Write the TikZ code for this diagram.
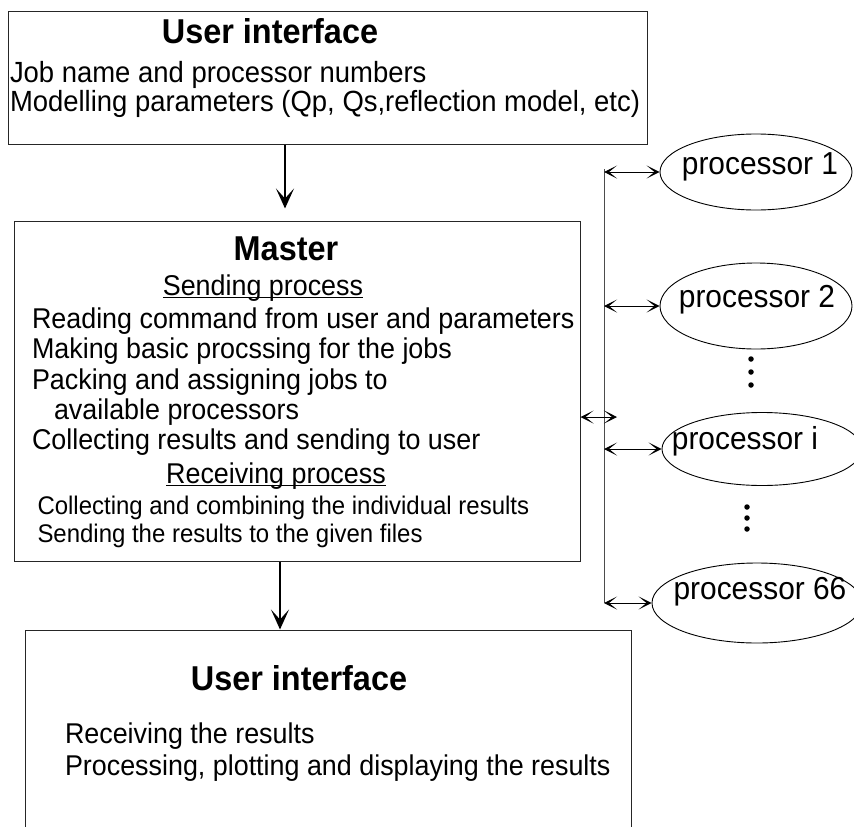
\documentclass[tikz,border=0pt]{standalone}
\usepackage{fontspec}
\setmainfont{Liberation Sans}[FakeStretch=0.94]
\usetikzlibrary{shapes.geometric,arrows.meta}
\begin{document}
\begin{tikzpicture}[x=1pt,y=-1pt,
  box/.style={draw=black!85, line width=1pt, rectangle, inner sep=0pt},
  proc/.style={draw=black, line width=0.9pt, ellipse, inner sep=0pt},
  title/.style={inner sep=0pt, outer sep=0pt, font=\fontsize{34.5pt}{38pt}\selectfont\bfseries},
  body/.style={inner sep=0pt, outer sep=0pt, font=\fontsize{28.6pt}{30pt}\selectfont},
  topbody/.style={inner sep=0pt, outer sep=0pt, font=\fontsize{29.2pt}{30pt}\selectfont},
  small/.style={inner sep=0pt, outer sep=0pt, font=\fontsize{25.5pt}{28pt}\selectfont},
  ptxt/.style={inner sep=0pt, outer sep=0pt, font=\fontsize{31.8pt}{34pt}\selectfont},
  ul/.style={line width=1pt},
  arr/.style={line width=2pt, -{Stealth[length=20pt,width=18pt,inset=10pt]}},
  dbl/.style={line width=1pt, {Stealth[length=13pt,width=13pt,inset=8pt]}-{Stealth[length=13pt,width=13pt,inset=8pt]}},
  bus/.style={line width=1pt, draw=black!70},
  dot/.style={circle, fill=black, inner sep=0pt, minimum size=5.5pt}
]
\path[fill=white] (0,0) rectangle (854,827);
\useasboundingbox (0,0) rectangle (854,827);

% boxes
\node[box, minimum width=639pt, minimum height=133pt] (ui) at (327.5,77.5) {};
\node[box, minimum width=566pt, minimum height=340pt] (master) at (297,391) {};
\node[box, minimum width=606pt, minimum height=240pt] (out) at (328,750) {};

% top box text
\node[title, anchor=base] (uit) at (270,43) {User interface};
\node[topbody, anchor=base west] (ui1) at (10,82) {Job name and processor numbers};
\node[topbody, anchor=base west] (ui2) at (10,111) {Modelling parameters (Qp, Qs,reflection model, etc)};

% master text
\node[title, anchor=base] (mt) at (286,260) {Master};
\node[body, anchor=base] (sp) at (263,295) {Sending process};
\draw[ul] ([yshift=-2.5pt]sp.base west) -- ([yshift=-2.5pt]sp.base east);
\node[body, anchor=base west] (m1) at (32,328) {Reading command from user and parameters};
\node[body, anchor=base west] (m2) at (32,358) {Making basic procssing for the jobs};
\node[body, anchor=base west] (m3) at (32,389) {Packing and assigning jobs to};
\node[body, anchor=base west] (m4) at (54,419) {available processors};
\node[body, anchor=base west] (m5) at (32,449) {Collecting results and sending to user};
\node[body, anchor=base] (rp) at (276,483) {Receiving process};
\draw[ul] ([yshift=-2.5pt]rp.base west) -- ([yshift=-2.5pt]rp.base east);
\node[small, anchor=base west] (m6) at (37.5,514) {Collecting and combining the individual results};
\node[small, anchor=base west] (m7) at (37.5,542) {Sending the results to the given files};

% bottom box text
\node[title, anchor=base] (ot) at (299,690) {User interface};
\node[body, anchor=base west] (o1) at (65,743) {Receiving the results};
\node[body, anchor=base west] (o2) at (65,775) {Processing, plotting and displaying the results};

% processors
\node[proc, minimum width=192pt, minimum height=76pt] (p1) at (756,172) {};
\node[proc, minimum width=192pt, minimum height=86pt] (p2) at (756,306) {};
\node[proc, minimum width=200pt, minimum height=73pt] (pi) at (762,449) {};
\node[proc, minimum width=210pt, minimum height=80pt] (p66) at (757,603) {};
\node[ptxt, anchor=base] (p1t) at (760,174) {processor 1};
\node[ptxt, anchor=base] (p2t) at (757,307) {processor 2};
\node[ptxt, anchor=base] (pit) at (745,449) {processor i};
\node[ptxt, anchor=base] (p66t) at (760,599) {processor 66};

% dots
\node[dot] (d1) at (751,359) {};
\node[dot] (d2) at (751,372) {};
\node[dot] (d3) at (751,385) {};
\node[dot] (d4) at (747,507) {};
\node[dot] (d5) at (747,518) {};
\node[dot] (d6) at (747,529) {};

% bus
\coordinate (bus) at (604,0);
\draw[bus] ([yshift=3pt]bus |- p1.west) -- (bus |- p66.west);
\draw[dbl] (bus |- p1.west) -- (p1.west);
\draw[dbl] (bus |- p2.west) -- (p2.west);
\draw[dbl] (bus |- pi.west) -- (pi.west);
\draw[dbl] (bus |- p66.west) -- (p66.west);
\coordinate (mx) at (617,417);
\draw[dbl] (master.east |- mx) -- (mx);

% main arrows
\coordinate (a1) at (285,0);
\draw[arr, shorten >=12pt] (ui.south -| a1) -- (master.north -| a1);
\coordinate (a2) at (280,0);
\draw[arr] (master.south -| a2) -- (out.north -| a2);
\end{tikzpicture}
\end{document}
